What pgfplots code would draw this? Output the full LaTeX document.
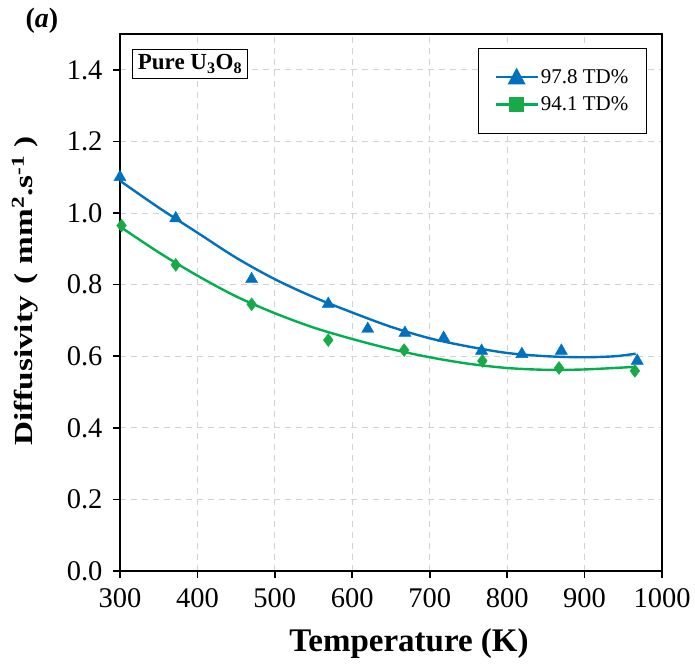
\documentclass[border=0pt]{standalone}
\usepackage{fontspec}
\setmainfont{Liberation Serif}
\newfontfamily\labfont[FakeStretch=1.28]{Liberation Serif}
\usepackage{pgfplots}
\pgfplotsset{compat=1.18}
\definecolor{myblue}{RGB}{0,112,192}
\definecolor{mygreen}{RGB}{0,176,80}
\definecolor{mkgreen}{RGB}{24,170,72}
\definecolor{gridgray}{RGB}{210,210,210}
\begin{document}
\begin{tikzpicture}
\useasboundingbox (-120pt,-95pt) rectangle (575pt,571pt);
\begin{axis}[
  at={(0pt,0pt)}, anchor=south west,
  scale only axis, width=542pt, height=537pt,
  xmin=300, xmax=1000, ymin=0, ymax=1.5,
  xtick={300,400,500,600,700,800,900,1000},
  ytick={0,0.2,0.4,0.6,0.8,1.0,1.2,1.4},
  /pgf/number format/fixed,
  /pgf/number format/1000 sep={},
  /pgf/number format/assume math mode=true,
  yticklabel={\pgfmathprintnumber[fixed,fixed zerofill,precision=1]{\tick}},
  tick label style={font=\fontsize{28.5}{30}\selectfont, black},
  yticklabel style={xshift=-7pt},
  xticklabel style={yshift=-7pt},
  tick align=outside, tick pos=left,
  major tick length=7pt,
  tick style={black, line width=1.6pt},
  axis line style={black, line width=2pt},
  grid=major,
  major grid style={gridgray, dashed, dash pattern=on 6pt off 5pt, line width=0.9pt},
  xlabel={\textbf{Temperature (K)}},
  ylabel={\labfont\bfseries Diffusivity\hspace{0.45em}(\hspace{0.35em}mm\textsuperscript{2}.s\textsuperscript{-1}\hspace{0.3em})},
  xlabel style={font=\fontsize{33}{35}\selectfont, at={(axis description cs:0.5,0)}, anchor=center, xshift=18pt, yshift=-73pt},
  ylabel style={font=\fontsize{26}{28}\selectfont, at={(axis description cs:-0.175,0.521)}, anchor=center},
  legend style={at={(0.972,0.974)}, anchor=north east, draw=black, line width=1pt,
    font=\fontsize{21}{24}\selectfont, inner xsep=16pt, inner ysep=19pt,
    row sep=8pt, cells={anchor=west}},
]
% fitted curves
\addplot[myblue, line width=2.4pt, smooth,
  legend image code/.code={\draw[myblue, line width=2.4pt] (0pt,0pt) -- (42pt,0pt);
    \fill[myblue] (21pt,0pt) ++(-7pt,-6pt) -- ++(14pt,0pt) -- ++(-7pt,13pt) -- cycle;}]
  coordinates {(300,1.09) (350,1.015) (400,0.945) (450,0.875) (500,0.815) (550,0.765) (600,0.722) (650,0.682) (700,0.65) (750,0.627) (800,0.609) (850,0.6) (900,0.597) (940,0.6) (966,0.607)};
\addlegendentry{97.8 TD\%}
\addplot[mygreen, line width=2.4pt, smooth,
  legend image code/.code={\draw[mygreen, line width=2.4pt] (0pt,0pt) -- (42pt,0pt);
    \fill[mkgreen] (21pt,0pt) ++(-6pt,-6pt) rectangle ++(12pt,12pt);}]
  coordinates {(300,0.962) (350,0.89) (400,0.825) (450,0.767) (500,0.72) (550,0.68) (600,0.648) (650,0.62) (700,0.597) (750,0.579) (800,0.567) (850,0.562) (900,0.563) (963,0.57)};
\addlegendentry{94.1 TD\%}
% data points
\addplot[only marks, mark=triangle*, mark size=7pt, myblue, forget plot]
  coordinates {(300,1.10) (372,0.985) (470,0.815) (569,0.746) (620,0.676) (668,0.665) (718,0.651) (767,0.615) (819,0.606) (870,0.615) (968,0.587)};
\addplot[only marks, mark=diamond*, mark size=6.5pt, mkgreen, forget plot]
  coordinates {(302,0.965) (372,0.855) (470,0.745) (569,0.645) (667,0.617) (768,0.587) (867,0.567) (965,0.559)};
\end{axis}
\node[draw=black, line width=1pt, fill=white, inner sep=5pt, font=\bfseries\fontsize{23}{26}\selectfont] at (70pt,507pt) {Pure U\textsubscript{3}O\textsubscript{8}};
\node[font=\bfseries\fontsize{28}{32}\selectfont] at (-78pt,550pt) {(\textit{a})};
\end{tikzpicture}
\end{document}
